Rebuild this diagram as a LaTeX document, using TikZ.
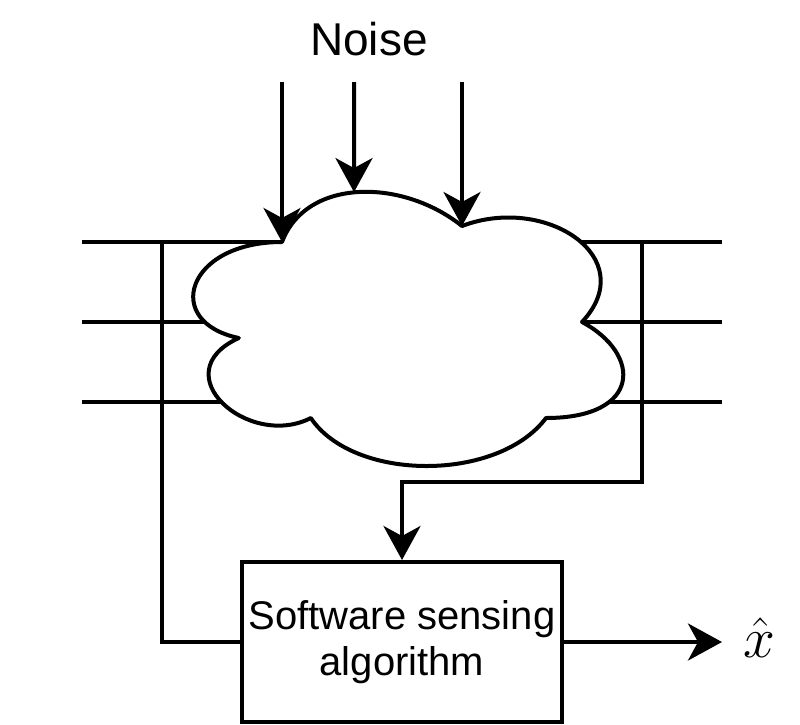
\RequirePackage{fix-cm}
\documentclass[tikz,border=0pt]{standalone}
\usepackage{graphicx}
\usepackage{fontspec}
\setmainfont{Liberation Sans}
\usetikzlibrary{arrows.meta, positioning}

\tikzset{
  wire/.style={line width=4pt},
  arr/.style={wire, -{Stealth[length=34pt, width=37pt, inset=10pt]}},
}

\begin{document}
\begin{tikzpicture}[x=1pt, y=-1pt]
    \useasboundingbox (0,0) rectangle (800,724);

    % sensor lines through the cloud
    \foreach \i/\y in {1/242, 2/322, 3/402} {
      \coordinate (in\i) at (82,\y);
      \coordinate (out\i) at (722,\y);
      \draw[wire] (in\i) -- (out\i);
    }
    \coordinate (tapL) at (162,242);
    \coordinate (tapR) at (642,242);

    \node[draw, wire, minimum width=320pt, minimum height=160pt, inner sep=0pt,
      align=center, font=\fontsize{40}{46}\selectfont] (algo) at (402,642)
      {Software sensing\\algorithm};

    \coordinate (fb) at (402,482);
    \coordinate (est) at (722,642);
    \draw[wire] (tapL) |- (algo.west);
    \draw[arr] (tapR) |- (fb) -- (algo.north);
    \draw[arr] (algo.east) -- (est);
    \node[anchor=base, font=\Huge] (xhat) at (759,657) {\scalebox{2.3}{$\hat{x}$}};

    % cloud
    \begin{scope}[shift={(162,162)}, x=480pt, y=-320pt]
      \draw[wire, line join=round, fill=white] (0.25,0.25)
        .. controls (0.05,0.25) and (0,0.5) .. (0.16,0.55)
        .. controls (0,0.66) and (0.18,0.9) .. (0.31,0.8)
        .. controls (0.4,1) and (0.7,1) .. (0.8,0.8)
        .. controls (1,0.8) and (1,0.6) .. (0.875,0.5)
        .. controls (1,0.3) and (0.8,0.1) .. (0.625,0.2)
        .. controls (0.5,0.05) and (0.3,0.05) .. (0.25,0.25) -- cycle;
      \coordinate (c1) at (0.25,0.25);
      \coordinate (c2) at (0.4,0.094);
      \coordinate (c3) at (0.625,0.2);
    \end{scope}

    \node[anchor=base, font=\fontsize{46}{55}\selectfont] (noise) at (369,55) {Noise};
    \foreach \i/\x in {1/282, 2/354, 3/462} {
      \coordinate (n\i) at (\x,82);
      \draw[arr] (n\i) -- (c\i);
    }
\end{tikzpicture}
\end{document}
